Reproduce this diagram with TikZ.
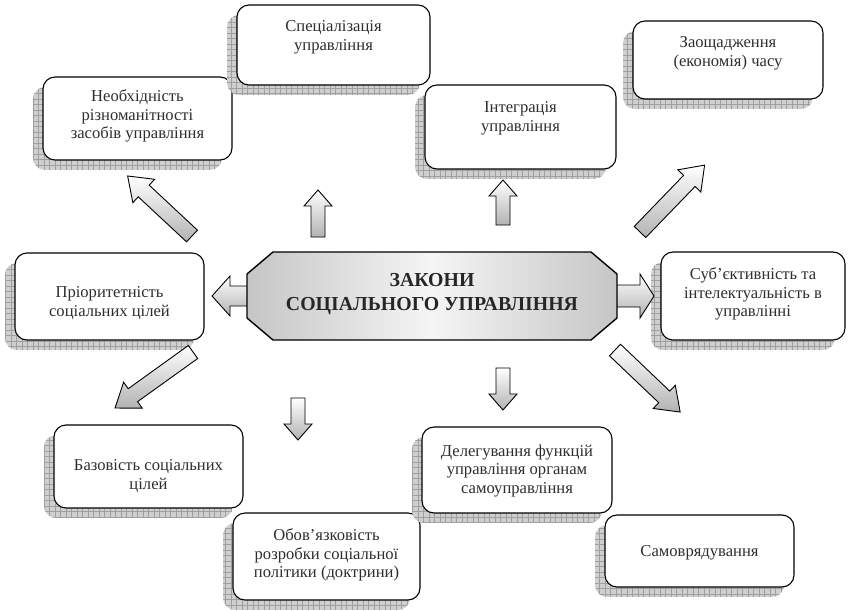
\documentclass[tikz,border=0pt]{standalone}
\usepackage{fontspec}
\setmainfont{Liberation Serif}
\tikzset{
  ubox/.style={draw=black, line width=1.1pt, rounded corners=12pt, fill=white, inner sep=0pt},
  utext/.style={align=center, font=\fontsize{16.6}{18.6}\selectfont, text=black!82},
  gridline/.style={draw=gray!75, line width=0.4pt},
  shadowfill/.style={fill=gray!38},
  arrowshade/.style={draw=black, line width=0.9pt, top color=white, bottom color=gray!60, line join=miter},
  octa/.style={draw=black, line width=1.4pt, left color=gray!45, right color=gray!45, middle color=gray!8},
  titletext/.style={align=center, font=\fontsize{19.8}{23.5}\selectfont\bfseries, text=black!85},
}
\usetikzlibrary{fit}
% #1 name, #2 left, #3 top, #4 right, #5 bottom, #6 text centre y, #7 text
\newcommand\ubox[7]{%
  \begin{scope}
    \clip[rounded corners=12pt] ({#2-10},{#3+10}) rectangle ({#4-10},{#5+10});
    \fill[shadowfill] ({#2-10},{#3+10}) rectangle ({#4-10},{#5+10});
    \draw[gridline, step=5.5pt] ({#2-10},{#3+10}) grid ({#4-10},{#5+10});
  \end{scope}
  \node[ubox, fit={(#2,#3) (#4,#5)}] (#1) {};
  \node[utext] (#1t) at ({(#2+#4)/2},#6) {#7};
}
% #1 tail, #2 angle, #3 length, #4 head length, #5 head half width, #6 shaft half width
\newcommand\blockarr[6]{%
  \begin{scope}[shift={#1}, rotate=#2]
    \shade[arrowshade] (0,-#6) -- ({#3-#4},-#6) -- ({#3-#4},-#5) -- (#3,0)
      -- ({#3-#4},#5) -- ({#3-#4},#6) -- (0,#6) -- cycle;
  \end{scope}
}
\begin{document}
\begin{tikzpicture}[x=1pt,y=-1pt]
\useasboundingbox[fill=white] (0,0) rectangle (850,610);

\ubox{b1}{43}{77}{232}{160}{116}{Необхідність\\різноманітності\\засобів управління}
\ubox{b2}{237}{5}{430}{85}{37}{Спеціалізація\\управління}
\ubox{b3}{633}{21}{823}{99}{53}{Заощадження\\(економія) часу}
\ubox{b4}{425}{85}{616}{169}{118}{Інтеграція\\управління}
\ubox{b5}{661}{252}{845}{340}{294}{Суб’єктивність та\\інтелектуальність в\\управлінні}
\ubox{b6}{15}{253}{204}{340}{303}{Пріоритетність\\соціальних цілей}
\ubox{b7}{54}{425}{243}{508}{476}{Базовість соціальних\\цілей}
\ubox{b8}{233}{513}{420}{600}{555}{Обов’язковість\\розробки соціальної\\політики (доктрини)}
\ubox{b9}{422}{427}{612}{513}{471}{Делегування функцій\\управління органам\\самоуправління}
\ubox{b10}{605}{515}{794}{587}{553}{Самоврядування}

% block arrows
\blockarr{(192,236)}{137}{88}{22}{16}{8}
\blockarr{(640,232)}{46}{93}{22}{16}{8}
\blockarr{(193,352)}{215.7}{96}{22}{16}{8}
\blockarr{(615,350)}{-43.6}{90}{22}{16}{8}
\blockarr{(318,237)}{90}{47}{16}{14}{7}
\blockarr{(503,225)}{90}{45}{16}{14}{7}
\blockarr{(298,398)}{-90}{42}{16}{14}{7}
\blockarr{(503,368)}{-90}{42}{16}{14}{7}
\blockarr{(250,296)}{180}{38}{18}{20}{10}
\blockarr{(614,296)}{0}{40}{14}{22}{11}

% central octagon
\shade[octa] (273,252) -- (591,252) -- (617,274) -- (617,318) -- (591,340)
  -- (273,340) -- (247,318) -- (247,274) -- cycle;
\node[titletext] (laws) at (432,294) {ЗАКОНИ\\СОЦІАЛЬНОГО УПРАВЛІННЯ};
\end{tikzpicture}
\end{document}
